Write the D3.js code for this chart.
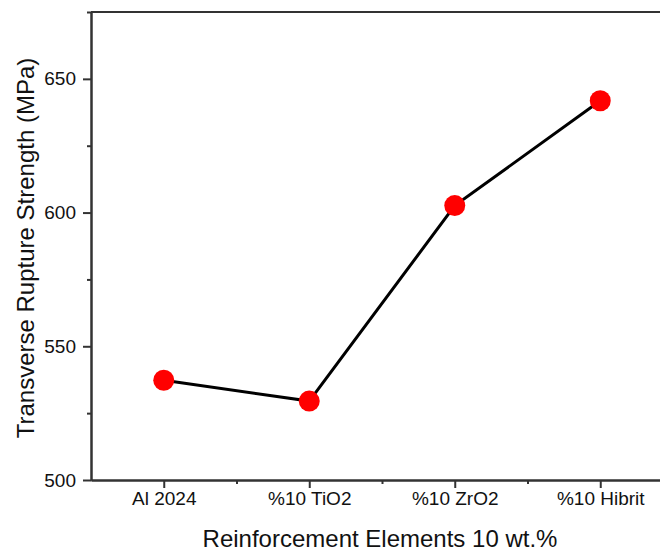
<!DOCTYPE html>
<html>
<head>
<meta charset="utf-8">
<script src="https://cdn.jsdelivr.net/npm/d3@7"></script>
<style>
  body { margin: 0; background: #fff; }
  svg { display: block; font-family: "Liberation Sans", Arial, sans-serif; }
  .axis path, .axis line { stroke: #333; stroke-width: 2; }
</style>
</head>
<body>
<div id="chart"></div>
<script>
var categories = ["Al 2024", "%10 TiO2", "%10 ZrO2", "%10 Hibrit"];
var strength = [537.3, 529.5, 602.6, 641.8];
var yTicks = [500, 550, 600, 650];
var yMinorTicks = [525, 575, 625, 675];

var W = 660, H = 552;
var margin = {top: 12, left: 91, bottom: 72};
var plotW = 582, plotH = H - margin.top - margin.bottom;

var svg = d3.select("#chart").append("svg")
    .attr("width", W).attr("height", H);

var g = svg.append("g")
    .attr("transform", "translate(" + margin.left + "," + margin.top + ")");

var xScale = d3.scaleLinear().domain([0.5, 4.5]).range([0, plotW]);
var yScale = d3.scaleLinear().domain([500, 675]).range([plotH, 0]);

function styleTicks(sel) {
    sel.attr("font-family", "Liberation Sans, Arial, sans-serif")
       .attr("font-size", 19);
    sel.selectAll("text").attr("fill", "#111");
}

// minor ticks first so the major ones sit on top
g.append("g").attr("class", "axis")
    .attr("transform", "translate(0," + plotH + ")")
    .call(d3.axisBottom(xScale).tickValues([1.5, 2.5, 3.5]).tickSize(4).tickFormat("").tickSizeOuter(0));

g.append("g").attr("class", "axis")
    .attr("transform", "translate(0," + plotH + ")")
    .call(d3.axisBottom(xScale).tickValues([1, 2, 3, 4]).tickSize(8).tickSizeOuter(0)
        .tickFormat(function(d) { return categories[d - 1]; }))
    .call(styleTicks)
    .selectAll("text").attr("y", 12).attr("dy", "0.71em");

g.append("g").attr("class", "axis")
    .call(d3.axisLeft(yScale).tickValues(yMinorTicks).tickSize(4).tickFormat("").tickSizeOuter(0));

g.append("g").attr("class", "axis")
    .call(d3.axisLeft(yScale).tickValues(yTicks).tickSize(8).tickSizeOuter(0))
    .call(styleTicks)
    .selectAll("text").attr("x", -15);

// top frame line
g.append("line")
    .attr("x1", 0).attr("x2", plotW)
    .attr("y1", 0).attr("y2", 0)
    .attr("stroke", "#333").attr("stroke-width", 2);

var line = d3.line()
    .x(function(d, i) { return xScale(i + 1); })
    .y(function(d) { return yScale(d); });

g.append("path")
    .datum(strength)
    .attr("fill", "none")
    .attr("stroke", "#000")
    .attr("stroke-width", 3)
    .attr("d", line);

g.selectAll("circle.pt")
    .data(strength)
    .enter().append("circle")
    .attr("class", "pt")
    .attr("cx", function(d, i) { return xScale(i + 1); })
    .attr("cy", function(d) { return yScale(d); })
    .attr("r", 10.5)
    .attr("fill", "#ff0000");

// axis titles
svg.append("text")
    .attr("x", 380)
    .attr("y", 547)
    .attr("text-anchor", "middle")
    .style("font-size", "24px")
    .attr("fill", "#111")
    .text("Reinforcement Elements 10 wt.%");

svg.append("text")
    .attr("transform", "translate(34," + (margin.top + plotH / 2 + 2) + ") rotate(-90)")
    .attr("text-anchor", "middle")
    .style("font-size", "24px")
    .attr("fill", "#111")
    .text("Transverse Rupture Strength (MPa)");
</script>
</body>
</html>
